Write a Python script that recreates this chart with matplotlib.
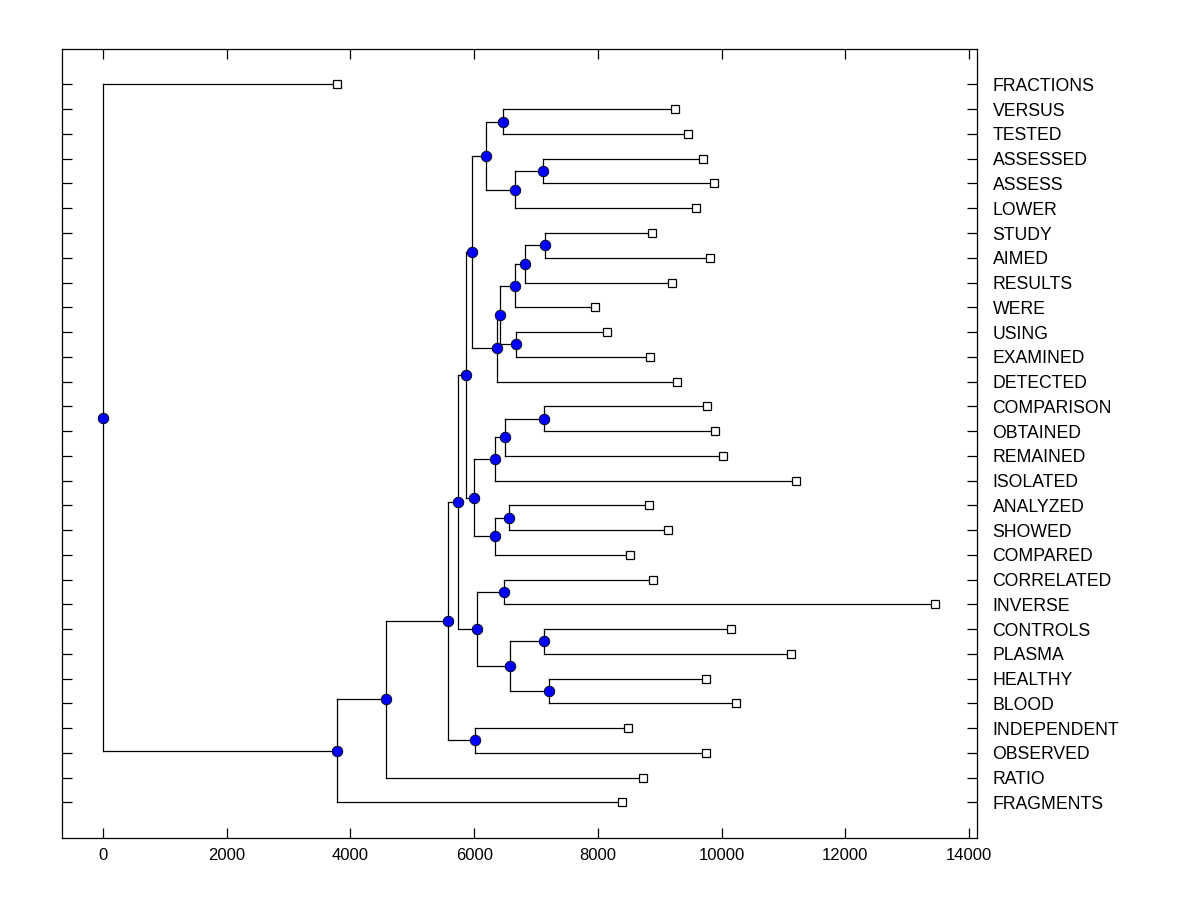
import matplotlib
matplotlib.use('Agg')
import matplotlib.pyplot as plt
import numpy as np

plt.rcParams['font.family'] = ['Liberation Sans', 'DejaVu Sans']

# leaves, top to bottom
labels = ['FRACTIONS', 'VERSUS', 'TESTED', 'ASSESSED', 'ASSESS', 'LOWER',
          'STUDY', 'AIMED', 'RESULTS', 'WERE', 'USING', 'EXAMINED', 'DETECTED',
          'COMPARISON', 'OBTAINED', 'REMAINED', 'ISOLATED', 'ANALYZED', 'SHOWED',
          'COMPARED', 'CORRELATED', 'INVERSE', 'CONTROLS', 'PLASMA', 'HEALTHY',
          'BLOOD', 'INDEPENDENT', 'OBSERVED', 'RATIO', 'FRAGMENTS']
leaf_x = [3787, 9252, 9462, 9704, 9882, 9591,
          8880, 9817, 9203, 7958, 8152, 8847, 9284,
          9769, 9898, 10028, 11208, 8831, 9138,
          8524, 8896, 13455, 10157, 11127, 9753,
          10238, 8492, 9753, 8734, 8395]

# internal nodes: name, first child, second child, height
node_names = ['a', 'b', 'c', 'd', 'e', 'f', 'g', 'h', 'i', 'j', 'k', 'l', 'm', 'n',
              'o', 'p', 'q', 'r', 's', 't', 'u', 'v', 'w', 'x', 'y', 'z', 'aa', 'bb', 'root']
node_left = ['VERSUS', 'ASSESSED', 'b', 'a', 'STUDY', 'e', 'f', 'USING', 'g', 'i', 'd',
             'COMPARISON', 'l', 'm', 'ANALYZED', 'o', 'n', 'k', 'CORRELATED', 'CONTROLS',
             'HEALTHY', 't', 's', 'r', 'INDEPENDENT', 'x', 'z', 'aa', 'FRACTIONS']
node_right = ['TESTED', 'ASSESS', 'LOWER', 'c', 'AIMED', 'RESULTS', 'WERE', 'EXAMINED',
              'h', 'DETECTED', 'j', 'OBTAINED', 'REMAINED', 'ISOLATED', 'SHOWED',
              'COMPARED', 'p', 'q', 'INVERSE', 'PLASMA', 'BLOOD', 'u', 'v', 'w',
              'OBSERVED', 'y', 'RATIO', 'FRAGMENTS', 'bb']
node_x = [6471, 7118, 6665, 6196, 7150, 6827, 6665, 6681, 6423, 6374, 5970,
          7134, 6503, 6342, 6568, 6342, 6003, 5873, 6487, 7134,
          7215, 6584, 6051, 5744, 6019, 5584, 4578, 3786, 0]

pos = {}
for i, lab in enumerate(labels):
    pos[lab] = (leaf_x[i], i)
for nm, l, r, h in zip(node_names, node_left, node_right, node_x):
    yl = pos[l][1]
    yr = pos[r][1]
    pos[nm] = (h, (yl + yr) / 2.0)

fig = plt.figure(figsize=(12, 9), dpi=100)
ax = fig.add_axes([0.0519, 0.0686, 0.7625, 0.8766])

lw = 0.9
for nm, l, r, h in zip(node_names, node_left, node_right, node_x):
    xl, yl = pos[l]
    xr, yr = pos[r]
    ax.plot([h, h], [yl, yr], color='black', lw=lw, zorder=1)
    ax.plot([h, xl], [yl, yl], color='black', lw=lw, zorder=1)
    ax.plot([h, xr], [yr, yr], color='black', lw=lw, zorder=1)

ax.plot(leaf_x, range(len(labels)), linestyle='none', marker='s', markersize=6.2,
        markerfacecolor='white', markeredgecolor='black', markeredgewidth=0.9, zorder=3)
ax.plot([pos[n][0] for n in node_names], [pos[n][1] for n in node_names],
        linestyle='none', marker='o', markersize=7.6, markerfacecolor='#0000FF',
        markeredgecolor='black', markeredgewidth=0.6, zorder=4)

ax.set_xlim(-658, 14134)
ax.set_ylim(30.45, -1.42)
ax.set_xticks(np.arange(0, 14001, 2000))
ax.set_yticks(range(len(labels)))
ax.set_yticklabels(labels)
ax.tick_params(axis='x', direction='in', length=7.2, width=0.9, top=True,
               labelsize=12, pad=7)
ax.tick_params(axis='y', direction='in', length=7.2, width=0.9, left=True, right=True,
               labelleft=False, labelright=True, labelsize=12.7, pad=11)
for sp in ax.spines.values():
    sp.set_linewidth(0.9)

fig.savefig('out.png', dpi=100, facecolor='white')
